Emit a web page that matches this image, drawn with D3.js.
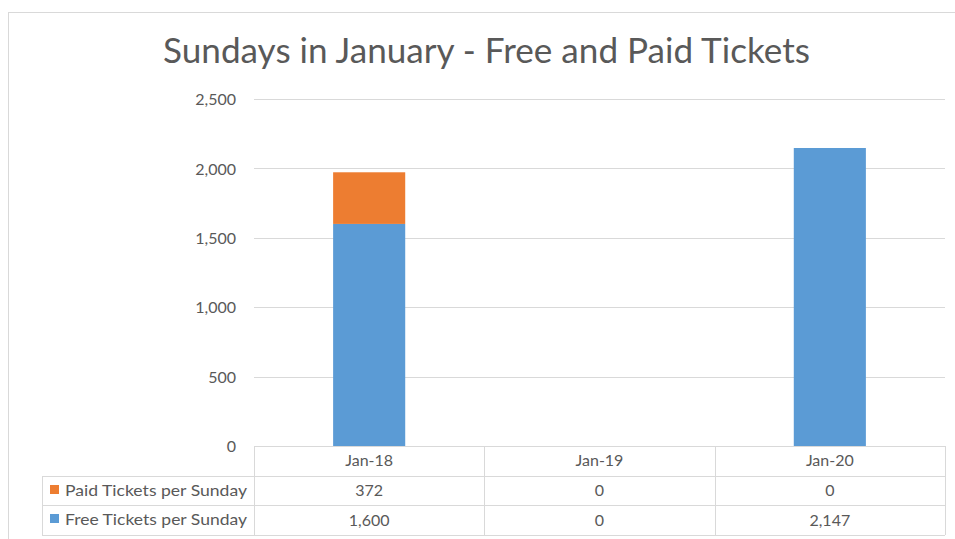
<!DOCTYPE html>
<html><head><meta charset="utf-8">
<script src="https://cdn.jsdelivr.net/npm/d3@7"></script>
<style>body{margin:0;background:#fff;} svg{display:block;font-family:Lato,'Open Sans',sans-serif;}</style>
</head><body>
<script>
const title = "Sundays in January - Free and Paid Tickets";
const categories = ["Jan-18", "Jan-19", "Jan-20"];
const seriesNames = ["Free Tickets per Sunday", "Paid Tickets per Sunday"];
const freeTickets = [1600, 0, 2147];
const paidTickets = [372, 0, 0];
const yTicks = [0, 500, 1000, 1500, 2000, 2500];
const colors = {free: "#5B9BD5", paid: "#ED7D31"};

const W = 955, H = 539;
const FS = 16;
const svg = d3.select("body").append("svg").attr("width", W).attr("height", H);

// chart area border
svg.append("rect").attr("x", 8.5).attr("y", 12.5).attr("width", W + 10).attr("height", H + 10)
  .attr("fill", "#fff").attr("stroke", "#D9D9D9");

const plotL = 254, plotR = 945, plotT = 99, plotB = 446;
const x = d3.scaleBand().domain(categories).range([plotL, plotR]).paddingInner(0.687).paddingOuter(0.3435);
const xc = d3.scaleBand().domain(categories).range([plotL, plotR]);
const y = d3.scaleLinear().domain([0, 2500]).range([plotB, plotT]);

svg.append("text").attr("x", 163).attr("y", 63)
  .attr("font-size", 34.5).attr("fill", "#595959")
  .attr("textLength", 647).attr("lengthAdjust", "spacingAndGlyphs").text(title);

// gridlines
svg.append("g").selectAll("line").data(yTicks.filter(d => d > 0)).join("line")
  .attr("x1", plotL).attr("x2", plotR).attr("y1", d => Math.round(y(d)) + 0.5).attr("y2", d => Math.round(y(d)) + 0.5)
  .attr("stroke", "#D9D9D9").attr("stroke-width", 1);

// y axis labels
const yAxis = d3.axisLeft(y).tickValues(yTicks).tickFormat(d3.format(",")).tickSize(0).tickPadding(0);
const ya = svg.append("g").attr("transform", `translate(236,0)`).call(yAxis);
ya.select(".domain").remove();
ya.selectAll("text").attr("font-size", FS).attr("fill", "#595959").attr("font-family", "Lato,sans-serif")
  .attr("dy", "0.36em");

// stacked bars
const stackData = categories.map((c, i) => ({cat: c, free: freeTickets[i], paid: paidTickets[i]}));
const stack = d3.stack().keys(["free", "paid"])(stackData);
svg.append("g").selectAll("g").data(stack).join("g").attr("fill", d => colors[d.key])
  .selectAll("rect").data(d => d).join("rect")
  .attr("x", d => x(d.data.cat)).attr("width", x.bandwidth())
  .attr("y", d => y(d[1])).attr("height", d => y(d[0]) - y(d[1]));

// data table
const rowTop = [446, 476, 505, 535];
const tableL = 42;
const g = svg.append("g").attr("stroke", "#D9D9D9").attr("stroke-width", 1).attr("fill", "none");
g.append("line").attr("x1", plotL).attr("x2", plotR).attr("y1", rowTop[0] + 0.5).attr("y2", rowTop[0] + 0.5);
[1, 2, 3].forEach(i => g.append("line").attr("x1", tableL).attr("x2", plotR).attr("y1", rowTop[i] + 0.5).attr("y2", rowTop[i] + 0.5));
g.append("line").attr("x1", tableL + 0.5).attr("x2", tableL + 0.5).attr("y1", rowTop[1]).attr("y2", rowTop[3]);
categories.forEach(c => g.append("line").attr("x1", Math.round(xc(c)) + 0.5).attr("x2", Math.round(xc(c)) + 0.5).attr("y1", rowTop[0]).attr("y2", rowTop[3]));
g.append("line").attr("x1", plotR + 0.5).attr("x2", plotR + 0.5).attr("y1", rowTop[0]).attr("y2", rowTop[3]);

const fmt = d3.format(",");
const tx = svg.append("g").attr("font-size", FS).attr("fill", "#595959").attr("text-anchor", "middle");
tx.selectAll("text.h").data(categories).join("text").attr("class", "h")
  .attr("x", d => xc(d) + xc.bandwidth() / 2).attr("y", 466).text(d => d);
tx.selectAll("text.p").data(paidTickets).join("text").attr("class", "p")
  .attr("x", (d, i) => xc(categories[i]) + xc.bandwidth() / 2).attr("y", 496).text(d => fmt(d));
tx.selectAll("text.f").data(freeTickets).join("text").attr("class", "f")
  .attr("x", (d, i) => xc(categories[i]) + xc.bandwidth() / 2).attr("y", 526).text(d => fmt(d));

// legend keys in table
const legendRows = [{name: seriesNames[1], color: colors.paid, y: 476}, {name: seriesNames[0], color: colors.free, y: 505}];
const lg = svg.append("g").selectAll("g").data(legendRows).join("g");
lg.append("rect").attr("x", 50).attr("y", d => d.y + 9).attr("width", 9).attr("height", 9).attr("fill", d => d.color);
lg.append("text").attr("x", 65).attr("y", d => d.y + 20).attr("font-size", FS).attr("fill", "#595959")
  .attr("textLength", 182).attr("lengthAdjust", "spacingAndGlyphs").text(d => d.name);
</script>
</body></html>
